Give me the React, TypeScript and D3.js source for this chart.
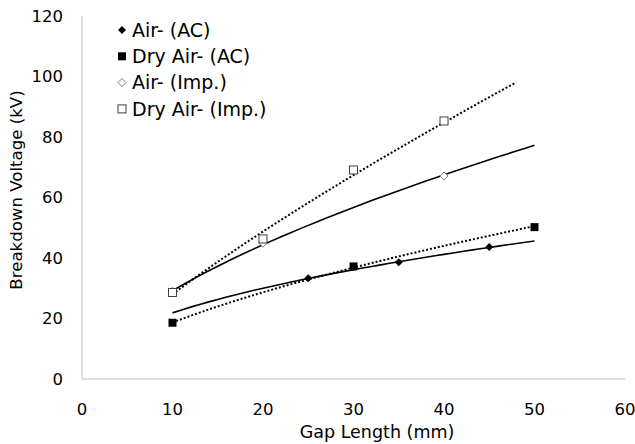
import React from "react";
import * as d3 from "d3";

// gap length (mm) and breakdown voltage (kV)
const airAcGap = [25, 35, 45];
const airAcKv = [33.3, 38.6, 43.6];
const dryAcGap = [10, 30, 50];
const dryAcKv = [18.6, 37.2, 50.2];
const airImpGap = [10, 20, 40];
const airImpKv = [29.0, 44.9, 67.1];
const dryImpGap = [10, 20, 30, 40];
const dryImpKv = [28.6, 46.3, 69.1, 85.3];

// range each power trendline is drawn over
const airAcTrend = [10, 50];
const dryAcTrend = [10, 50];
const airImpTrend = [10, 50];
const dryImpTrend = [10, 48];

const seriesNames = ["Air- (AC)", "Dry Air- (AC)", "Air- (Imp.)", "Dry Air- (Imp.)"];
const xTicks = [0, 10, 20, 30, 40, 50, 60];
const yTicks = [0, 20, 40, 60, 80, 100, 120];

const W = 635;
const H = 444;
const FONT = "'DejaVu Sans', Verdana, sans-serif";

// least squares fit of y = a * x^b in log space
function powerFit(xs: number[], ys: number[]) {
  const lx = xs.map(Math.log);
  const ly = ys.map(Math.log);
  const mx = d3.mean(lx)!;
  const my = d3.mean(ly)!;
  const sxy = d3.sum(lx, (v, i) => (v - mx) * (ly[i] - my));
  const sxx = d3.sum(lx, (v) => (v - mx) * (v - mx));
  const b = sxy / sxx;
  const a = Math.exp(my - b * mx);
  return (x: number) => a * Math.pow(x, b);
}

function Marker({ kind, x, y }: { kind: string; x: number; y: number }) {
  if (kind === "diamond")
    return <path d={`M${x},${y - 4}L${x + 4},${y}L${x},${y + 4}L${x - 4},${y}Z`} fill="#000" />;
  if (kind === "square")
    return <rect x={x - 4} y={y - 4} width={8} height={8} fill="#000" />;
  if (kind === "odiamond")
    return (
      <path
        d={`M${x},${y - 4}L${x + 4},${y}L${x},${y + 4}L${x - 4},${y}Z`}
        fill="#fff"
        stroke="#808080"
        strokeWidth={1}
      />
    );
  return <rect x={x - 4} y={y - 4} width={8} height={8} fill="#fff" stroke="#404040" strokeWidth={1} />;
}

export default function App() {
  const x = d3.scaleLinear().domain([0, 60]).range([82, 625]);
  const y = d3.scaleLinear().domain([0, 120]).range([379, 16]);

  const series = [
    { name: seriesNames[0], gap: airAcGap, kv: airAcKv, trend: airAcTrend, kind: "diamond", dash: "" },
    { name: seriesNames[1], gap: dryAcGap, kv: dryAcKv, trend: dryAcTrend, kind: "square", dash: "2,2" },
    { name: seriesNames[2], gap: airImpGap, kv: airImpKv, trend: airImpTrend, kind: "odiamond", dash: "" },
    { name: seriesNames[3], gap: dryImpGap, kv: dryImpKv, trend: dryImpTrend, kind: "osquare", dash: "2,2" },
  ];

  const line = d3
    .line<[number, number]>()
    .x((d) => x(d[0]))
    .y((d) => y(d[1]));

  return (
    <svg width={W} height={H} style={{ position: "absolute", left: 0, top: 0 }} fontFamily={FONT}>
      <rect width={W} height={H} fill="#fff" />
      {/* axes */}
      <line x1={x(0)} x2={x(0)} y1={y(0)} y2={y(120)} stroke="#bfbfbf" strokeWidth={1} />
      <line x1={x(0)} x2={x(60)} y1={y(0)} y2={y(0)} stroke="#bfbfbf" strokeWidth={1} />
      {yTicks.map((t) => (
        <text key={t} x={63} y={y(t)} dy="0.36em" textAnchor="end" fontSize={16.5} fill="#000">
          {t}
        </text>
      ))}
      {xTicks.map((t) => (
        <text key={t} x={x(t)} y={409} dy="0.36em" textAnchor="middle" fontSize={16.5} fill="#000">
          {t}
        </text>
      ))}
      <text x={377} y={432} dy="0.36em" textAnchor="middle" fontSize={17.5} fill="#000">
        Gap Length (mm)
      </text>
      <text
        transform={`translate(16,190) rotate(-90)`}
        dy="0.36em"
        textAnchor="middle"
        fontSize={16.6}
        fill="#000"
      >
        Breakdown Voltage (kV)
      </text>

      {/* power trendlines */}
      {series.map((s) => {
        const f = powerFit(s.gap, s.kv);
        const pts: [number, number][] = d3
          .range(0, 41)
          .map((i) => s.trend[0] + ((s.trend[1] - s.trend[0]) * i) / 40)
          .map((g) => [g, f(g)]);
        return (
          <path
            key={s.name}
            d={line(pts) || ""}
            fill="none"
            stroke="#000"
            strokeWidth={s.dash ? 2 : 1.6}
            strokeDasharray={s.dash || undefined}
          />
        );
      })}

      {/* data points */}
      {series.map((s) =>
        s.gap.map((g, i) => <Marker key={s.name + g} kind={s.kind} x={x(g)} y={y(s.kv[i])} />)
      )}

      {/* legend */}
      {series.map((s, i) => (
        <g key={s.name} transform={`translate(0,${30 + i * 26.3})`}>
          <Marker kind={s.kind} x={122} y={0} />
          <text x={132} y={0} dy="0.36em" fontSize={19} fill="#000">
            {s.name}
          </text>
        </g>
      ))}
    </svg>
  );
}
